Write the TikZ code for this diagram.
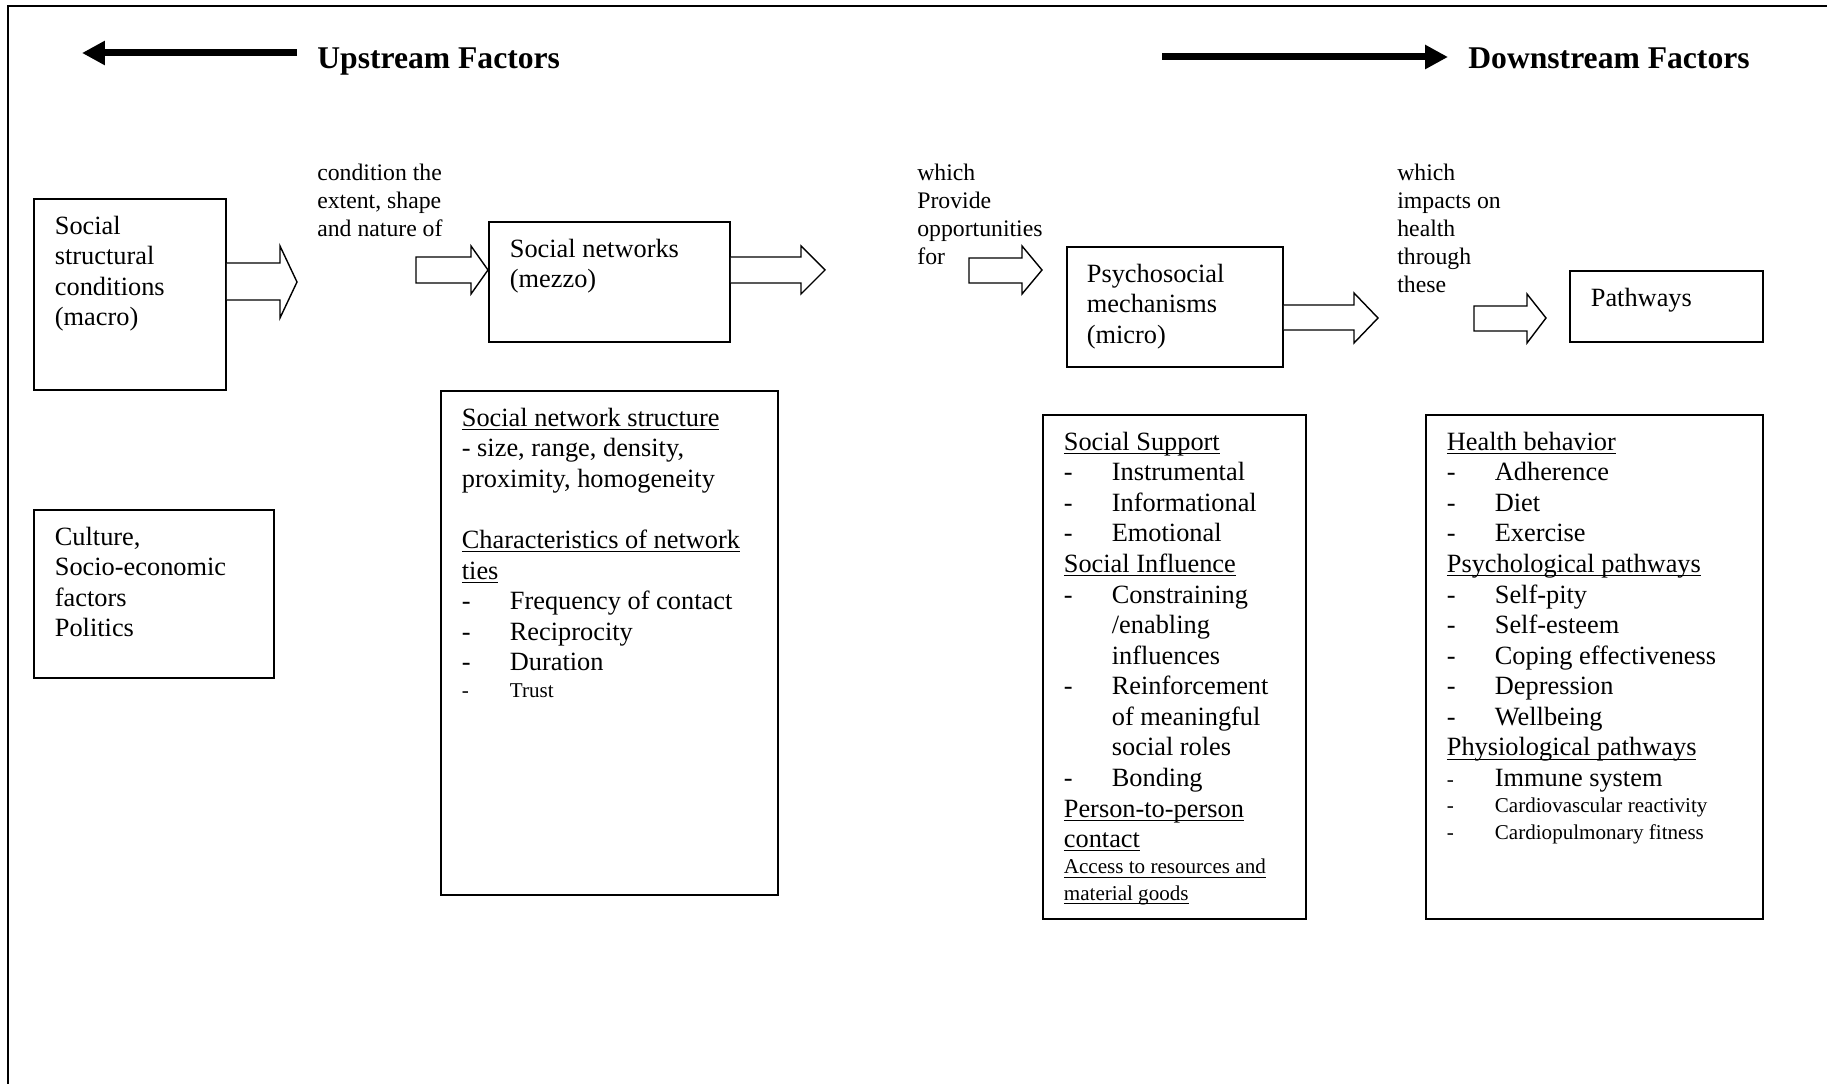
\documentclass[tikz,border=0pt]{standalone}
\usepackage{fontspec}
\setmainfont{Liberation Serif}
\usepackage{tikz}
\usetikzlibrary{arrows.meta}

\newlength{\px}
\setlength{\px}{0.02cm}
% one list line: dash, then the text at a fixed indent
\newcommand{\itm}[1]{\makebox[48\px][l]{-}#1}
\newcommand{\cont}[1]{\hspace*{48\px}#1}
\newcommand{\smalltext}{\fontsize{12}{15}\selectfont}
% underline at a fixed depth
\newsavebox{\undlbox}
\newcommand{\undl}[1]{\leavevmode\sbox{\undlbox}{#1}\rlap{\rule[-2.2pt]{\wd\undlbox}{0.6pt}}\usebox{\undlbox}}
% text of a box: width, height (in px), lines
\newcommand{\boxtext}[3]{\parbox[t][#2\px][t]{#1\px}{#3}}

\tikzset{
	x=0.02cm, y=-0.02cm, % one unit is one pixel of the figure, y runs down
	box/.style={draw, line width=1pt, anchor=north west, inner xsep=21\px, inner ysep=17\px,
		font=\fontsize{15}{17.4}\selectfont}, % the framed boxes
	lbl/.style={anchor=base west, inner sep=0pt, font=\fontsize{13.5}{15.9}\selectfont}, % text over the arrows
	head/.style={anchor=base west, inner sep=0pt, font=\bfseries\fontsize{18}{21}\selectfont},
	fatarrow/.style={line width=7\px, -{Triangle[length=0.46cm, width=0.46cm]}},
	hollow/.style={draw, line width=0.8pt, fill=white, line join=miter},
}

\begin{document}
\begin{tikzpicture}
	\useasboundingbox (0,0) rectangle (1827,1084);
	\draw[line width=1.2pt] (8,1084) -- (8,6) -- (1827,6);

	% headings
	\node[head] (up) at (317,69) {Upstream Factors};
	\node[head] (down) at (1468,69) {Downstream Factors};
	\coordinate (uptail) at (297,53);
	\coordinate (uptip) at (82,53);
	\coordinate (downtail) at (1162,57);
	\coordinate (downtip) at (1448,57);
	\draw[fatarrow] (uptail) -- (uptip);
	\draw[fatarrow] (downtail) -- (downtip);

	% boxes
	\node[box] (macro) at (33,198) {\boxtext{150}{157}{Social\par structural\par conditions\par (macro)}};
	\node[box] (culture) at (33,509) {\boxtext{198}{134}{Culture,\par Socio-economic\par factors\par Politics}};
	\node[box] (mezzo) at (488,221) {\boxtext{199}{86}{Social networks\par (mezzo)}};
	\node[box] (ties) at (440,390) {\boxtext{295}{470}{%
		\undl{Social network structure}\par
		- size, range, density,\par
		proximity, homogeneity\par
		\mbox{}\par
		\undl{Characteristics of network}\par
		\undl{ties}\par
		\itm{Frequency of contact}\par
		\itm{Reciprocity}\par
		\itm{Duration}\par
		{\smalltext\itm{Trust}\par}}};
	\node[box, inner xsep=20\px] (micro) at (1066,246) {\boxtext{176}{86}{Psychosocial\par mechanisms\par (micro)}};
	\node[box] (mech) at (1042,414) {\boxtext{221}{470}{%
		\undl{Social Support}\par
		\itm{Instrumental}\par
		\itm{Informational}\par
		\itm{Emotional}\par
		\undl{Social Influence}\par
		\itm{Constraining}\par
		\cont{/enabling}\par
		\cont{influences}\par
		\itm{Reinforcement}\par
		\cont{of meaningful}\par
		\cont{social roles}\par
		\itm{Bonding}\par
		\undl{Person-to-person}\par
		\undl{contact}\par
		{\smalltext\undl{Access to resources and}\par
		\undl{material goods}\par}}};
	\node[box] (pathways) at (1569,270) {\boxtext{151}{37}{Pathways}};
	\node[box] (pathlist) at (1425,414) {\boxtext{295}{470}{%
		\undl{Health behavior}\par
		\itm{Adherence}\par
		\itm{Diet}\par
		\itm{Exercise}\par
		\undl{Psychological pathways}\par
		\itm{Self-pity}\par
		\itm{Self-esteem}\par
		\itm{Coping effectiveness}\par
		\itm{Depression}\par
		\itm{Wellbeing}\par
		\undl{Physiological pathways}\par
		{\smalltext\makebox[48\px][l]{-}}Immune system\par
		{\smalltext\itm{Cardiovascular reactivity}\par
		\itm{Cardiopulmonary fitness}\par}}};

	% text over the arrows
	\node[lbl] (cond) at (317,181) {\parbox[t]{150\px}{condition the\\ extent, shape\\ and nature of}};
	\node[lbl] (prov) at (917,181) {\parbox[t]{150\px}{which\\ Provide\\ opportunities\\ for}};
	\node[lbl] (impact) at (1397,181) {\parbox[t]{150\px}{which\\ impacts on\\ health\\ through\\ these}};

	% hollow block arrows
	\draw[hollow] (macro.east |- 0,263) -- (280,263) -- (280,246) -- (297,282) -- (280,318) -- (280,300) -- (macro.east |- 0,300);
	\draw[hollow] (416,257) -- (471,257) -- (471,246) -- (mezzo.west |- 0,270) -- (471,294) -- (471,283) -- (416,283) -- cycle;
	\draw[hollow] (mezzo.east |- 0,257) -- (801,257) -- (801,246) -- (825,270) -- (801,294) -- (801,283) -- (mezzo.east |- 0,283);
	\draw[hollow] (969,258) -- (1022,258) -- (1022,246) -- (1042,270) -- (1022,294) -- (1022,283) -- (969,283) -- cycle;
	\draw[hollow] (micro.east |- 0,305) -- (1354,305) -- (1354,293) -- (1378,318) -- (1354,343) -- (1354,330) -- (micro.east |- 0,330);
	\draw[hollow] (1474,306) -- (1527,306) -- (1527,294) -- (1546,318) -- (1527,343) -- (1527,331) -- (1474,331) -- cycle;
\end{tikzpicture}
\end{document}
